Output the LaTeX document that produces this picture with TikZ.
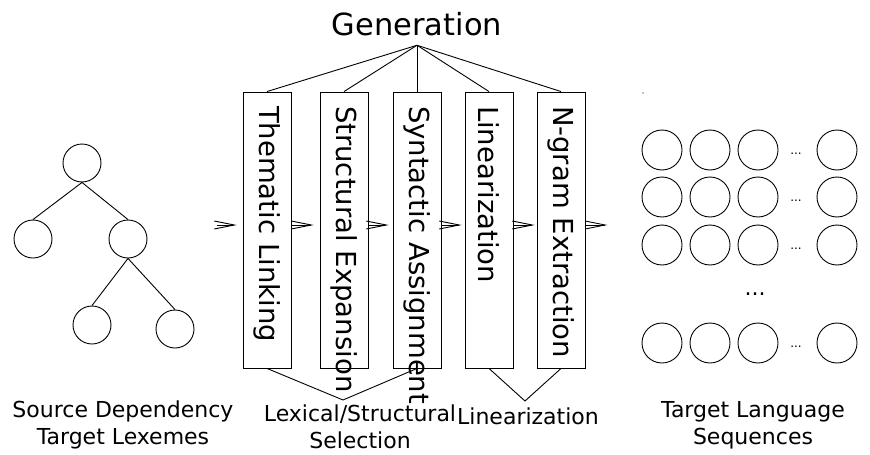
\documentclass[tikz,border=0pt]{standalone}
\usepackage{fontspec}
\setmainfont{DejaVu Sans}
\usetikzlibrary{positioning, arrows.meta}

\begin{document}
\begin{tikzpicture}[x=1pt, y=-1pt, line width=0.9pt, leaf/.style={circle,draw,minimum size=38pt,inner sep=0pt}, seq/.style={circle,draw,minimum size=40pt,inner sep=0pt}, stage/.style={rectangle,draw,minimum width=48pt,minimum height=276pt,inner sep=0pt}, stagetext/.style={rotate=-90,anchor=west,inner sep=0pt,font=\fontsize{27.5}{30}\selectfont}, lbl/.style={align=center,inner sep=0pt,font=\fontsize{22}{27}\selectfont}, tip/.style={-{Straight Barb[length=20pt,width=8pt]}} ]
\useasboundingbox (0,0) rectangle (870,455);
% source tree
\node (t0) [leaf] at (82,163) {};
\node (t1) [leaf] at (33,239) {};
\node (t2) [leaf] at (128,239) {};
\node (t3) [leaf] at (92,325) {};
\node (t4) [leaf] at (175,329) {};
\draw (t0.south) -- (t1.north);
\draw (t0.south) -- (t2.north);
\draw (t2.south) -- (t3.north);
\draw (t2.south) -- (t4.north);
\node (src) [lbl] at (123,425) {Source Dependency\\Target Lexemes};
% generation stages
\node (gen) [inner xsep=0pt, inner ysep=9pt, font=\fontsize{30.5}{32}\selectfont] at (417,24) {Generation};
\node (s1) [stage] at (267,230) {};
\node (s2) [stage] at (344,230) {};
\node (s3) [stage] at (417,230) {};
\node (s4) [stage] at (489,230) {};
\node (s5) [stage] at (561,230) {};
\node (l1) [stagetext] at ([yshift=-14pt]s1.north) {Thematic Linking};
\node (l2) [stagetext] at ([yshift=-14pt]s2.north) {Structural Expansion};
\node (l3) [stagetext] at ([yshift=-14pt]s3.north) {Syntactic Assignment};
\node (l4) [stagetext] at ([yshift=-14pt]s4.north) {Linearization};
\node (l5) [stagetext] at ([yshift=-14pt]s5.north) {N-gram Extraction};
  \begin{scope}
    \draw (gen.south) -- (s1.north);
    \draw (gen.south) -- (s2.north);
    \draw (gen.south) -- (s3.north);
    \draw (gen.south) -- (s4.north);
    \draw (gen.south) -- (s5.north);
  \end{scope}
  \begin{scope}
    \coordinate (in) at (217,225);
    \draw [tip, shorten >=6pt] (in) -- (in -| s1.west);
    \draw [tip, shorten >=6pt] ([yshift=5pt]s1.east) -- ([yshift=5pt]s2.west);
    \draw [tip, shorten >=4pt] ([yshift=5pt]s2.east) -- ([yshift=5pt]s3.west);
    \draw [tip, shorten >=3pt] ([yshift=5pt]s3.east) -- ([yshift=5pt]s4.west);
    \draw [tip, shorten >=2pt] ([yshift=5pt]s4.east) -- ([yshift=5pt]s5.west);
    \draw [tip] ([yshift=5pt]s5.east) -- ++(22,0);
  \end{scope}
  \begin{scope}
    \coordinate (v1) at (343,400);
    \coordinate (v2) at (525,401);
    \draw (s1.south) -- (v1) -- (s3.south);
    \draw (s4.south) -- (v2) -- (s5.south);
    \node (lex) [lbl] at (360,427) {Lexical/Structural\\Selection};
    \node (lin) [lbl] at (528,416) {Linearization};
  \end{scope}
% target sequences
\fill (643,93) circle (0.6pt);
\node (q11) [seq] at (662,150) {};
\node (q12) [seq] at (710,150) {};
\node (q13) [seq] at (758,150) {};
\node (q14) [seq] at (837,150) {};
\node (q21) [seq] at (662,197) {};
\node (q22) [seq] at (710,197) {};
\node (q23) [seq] at (758,197) {};
\node (q24) [seq] at (837,197) {};
\node (q31) [seq] at (662,245) {};
\node (q32) [seq] at (710,245) {};
\node (q33) [seq] at (758,245) {};
\node (q34) [seq] at (837,245) {};
\node (q41) [seq] at (662,343) {};
\node (q42) [seq] at (710,343) {};
\node (q43) [seq] at (758,343) {};
\node (q44) [seq] at (837,343) {};
\node (d1) [font=\fontsize{12}{12}\selectfont] at (796,154) {...};
\node (d2) [font=\fontsize{12}{12}\selectfont] at (796,201) {...};
\node (d3) [font=\fontsize{12}{12}\selectfont] at (796,249) {...};
\node (d4) [font=\fontsize{12}{12}\selectfont] at (796,347) {...};
\node (dv) [font=\fontsize{22}{22}\selectfont] at (755,294) {...};
\node (tgt) [lbl] at (753,425) {Target Language\\Sequences};
\end{tikzpicture}
\end{document}
